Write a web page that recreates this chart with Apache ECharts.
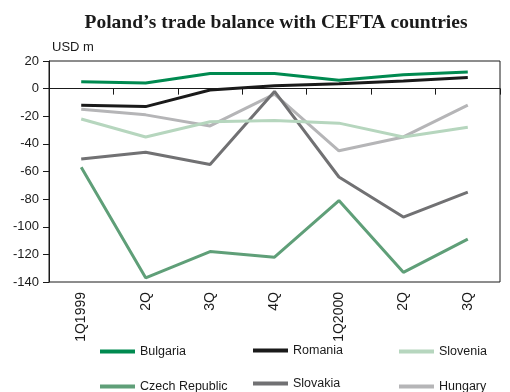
<!DOCTYPE html>
<html>
<head>
<meta charset="utf-8">
<script src="https://cdn.jsdelivr.net/npm/echarts@6/dist/echarts.min.js"></script>
<style>
  html, body { margin: 0; padding: 0; background: #fff; }
  #chart { width: 510px; height: 392px; }
</style>
</head>
<body>
<div id="chart"></div>
<script>
// Quarterly trade balance of Poland with CEFTA members, USD m
const quarters = ['1Q1999', '2Q', '3Q', '4Q', '1Q2000', '2Q', '3Q'];
const bulgaria = [5, 4, 11, 11, 6, 10, 12];
const romania = [-12, -13, -1, 2, 3.5, 5.5, 8];
const slovenia = [-22, -35, -24, -23, -25, -35, -28];
const czechRepublic = [-57, -137, -118, -122, -81, -133, -109];
const slovakia = [-51, -46, -55, -2, -64, -93, -75];
const hungary = [-15, -19, -27, -4, -45, -35, -12];
const yTicks = { min: -140, max: 20, interval: 20 };

const seriesDefs = [
  { name: 'Bulgaria', data: bulgaria, color: '#008a50' },
  { name: 'Romania', data: romania, color: '#1a1a1a' },
  { name: 'Slovenia', data: slovenia, color: '#b6d6be' },
  { name: 'Czech Republic', data: czechRepublic, color: '#5f9f78' },
  { name: 'Slovakia', data: slovakia, color: '#717173' },
  { name: 'Hungary', data: hungary, color: '#b5b5b7' }
];

// legend slots: three columns, two rows
const legendSlots = [
  { left: 100, top: 345 }, { left: 253, top: 344 }, { left: 399, top: 345 },
  { left: 100, top: 380 }, { left: 253, top: 377 }, { left: 399, top: 380 }
];

const font = 'Liberation Sans, Arial, Helvetica, sans-serif';

const chart = echarts.init(document.getElementById('chart'), null, { renderer: 'canvas' });

const option = {
  animation: false,
  backgroundColor: '#fff',
  title: {
    text: 'Poland\u2019s trade balance with CEFTA countries',
    left: 271,
    textAlign: 'center',
    top: 8,
    textStyle: {
      fontFamily: 'Liberation Serif, Times New Roman, serif',
      fontWeight: 'bold',
      fontSize: 19.5,
      color: '#1a1a1a'
    }
  },
  grid: {
    left: 49, right: 10, top: 61, bottom: 110,
    show: true, borderColor: '#1a1a1a', borderWidth: 1, backgroundColor: 'transparent'
  },
  legend: seriesDefs.map((s, i) => ({
    data: [s.name],
    left: legendSlots[i].left,
    top: legendSlots[i].top,
    padding: 0,
    orient: 'horizontal',
    icon: 'rect',
    itemWidth: 35,
    itemHeight: 4,
    itemGap: 0,
    selectedMode: false,
    textStyle: { fontFamily: font, fontSize: 12.5, color: '#1a1a1a' }
  })),
  xAxis: {
    type: 'category',
    data: quarters,
    boundaryGap: true,
    axisLine: { lineStyle: { color: '#1a1a1a', width: 1 } },
    axisTick: { show: true, length: 6, alignWithLabel: false, lineStyle: { color: '#1a1a1a' } },
    axisLabel: {
      rotate: 90,
      interval: 0,
      margin: 10,
      fontFamily: font,
      fontSize: 14,
      color: '#1a1a1a'
    },
    splitLine: { show: false }
  },
  yAxis: {
    type: 'value',
    min: yTicks.min,
    max: yTicks.max,
    interval: yTicks.interval,
    name: 'USD m',
    nameLocation: 'end',
    nameGap: 7,
    nameTextStyle: { fontFamily: font, fontSize: 13, color: '#1a1a1a', align: 'left', padding: [0, 0, 0, 3] },
    axisLine: { show: true, onZero: false, lineStyle: { color: '#1a1a1a', width: 1 } },
    axisTick: { show: true, length: 6, inside: false, lineStyle: { color: '#1a1a1a' } },
    axisLabel: { fontFamily: font, fontSize: 13, color: '#1a1a1a', margin: 10 },
    splitLine: { show: false }
  },
  series: seriesDefs.map((s, i) => {
    const ser = {
      name: s.name,
      type: 'line',
      data: s.data,
      symbol: 'none',
      z: 10 - i,
      color: s.color,
      lineStyle: { color: s.color, width: 3 }
    };
    if (i === 0) {
      ser.markLine = {
        silent: true,
        symbol: 'none',
        label: { show: false },
        lineStyle: { color: '#1a1a1a', width: 1, type: 'solid' },
        data: [{ yAxis: 0 }],
        z: 1
      };
    }
    return ser;
  })
};

chart.setOption(option);
</script>
</body>
</html>
